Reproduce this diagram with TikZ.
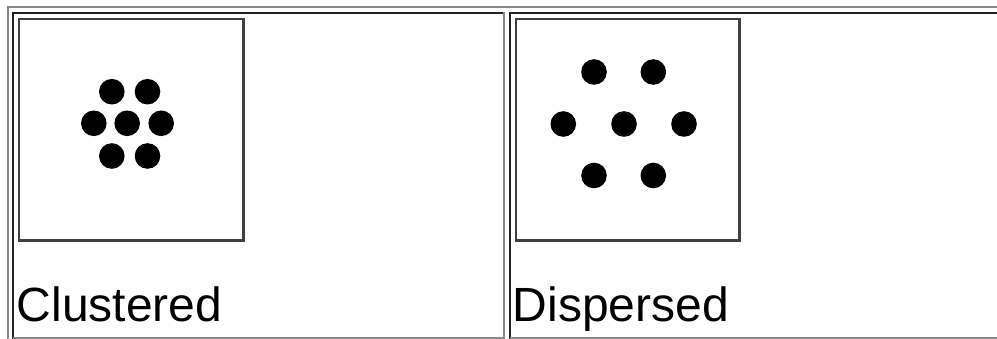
\documentclass[tikz,border=0pt]{standalone}
\usepackage{fontspec}
\setmainfont{Liberation Sans}
\definecolor{lightedge}{HTML}{888888}
\definecolor{darkedge}{HTML}{222222}
\definecolor{boxedge}{HTML}{404040}
\begin{document}
\begin{tikzpicture}[x=1pt,y=-1pt,
  light/.style={draw=lightedge,line width=2pt},
  dark/.style={draw=darkedge,line width=2pt},
  imgbox/.style={draw=boxedge,line width=2.5pt},
  dot/.style={circle,fill=black,draw=none,minimum size=25.6pt,inner sep=0pt},
  caption/.style={anchor=base west,inner sep=0pt,font=\fontsize{48}{52}\selectfont}]
\path[use as bounding box,fill=white] (0,0) rectangle (997,339);
% outer table border (outset)
\draw[light] (997,7) -- (8,7) -- (8,339);
% cell 1 (inset)
\draw[dark] (504,13) -- (13,13) -- (13,339);
\draw[light] (13,338) -- (504,338) -- (504,12);
% cell 2 (inset)
\draw[dark] (997,13) -- (510,13) -- (510,339);
\draw[light] (510,338) -- (997,338);
% image boxes
\draw[imgbox] (19,19) rectangle (243.5,240.5);
\draw[imgbox] (516,19) rectangle (739.5,240.5);
% clustered dots
\node[dot] (c1) at (111.8,91.7) {};
\node[dot] (c2) at (147.5,91.7) {};
\node[dot] (c3) at (93.8,123.3) {};
\node[dot] (c4) at (127.2,123.3) {};
\node[dot] (c5) at (161.2,123.3) {};
\node[dot] (c6) at (111.8,156) {};
\node[dot] (c7) at (147.5,156) {};
% dispersed dots
\node[dot] (d1) at (594,72) {};
\node[dot] (d2) at (653.3,72) {};
\node[dot] (d3) at (563.3,124) {};
\node[dot] (d4) at (624,124) {};
\node[dot] (d5) at (684,124) {};
\node[dot] (d6) at (594,175.5) {};
\node[dot] (d7) at (653.3,175.5) {};
% captions
\node[caption] (clus) at (16.5,322) {Clustered};
\node[caption] (disp) at (512.5,322) {Dispersed};
\end{tikzpicture}
\end{document}
